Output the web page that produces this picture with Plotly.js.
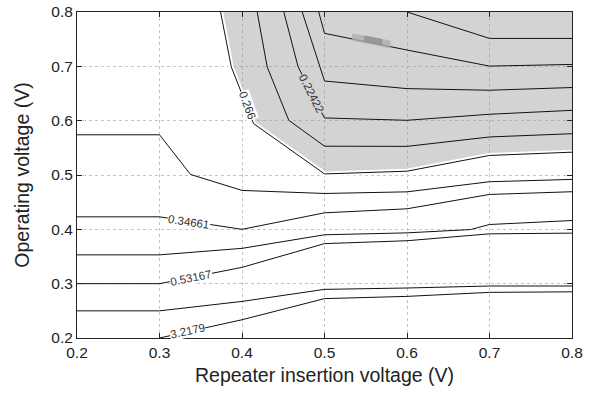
<!DOCTYPE html>
<html>
<head>
<meta charset="utf-8">
<script src="https://cdn.plot.ly/plotly-3.0.1.min.js"></script>
<style>html,body{margin:0;padding:0;background:#fff;}#chart{width:595px;height:395px;}</style>
</head>
<body>
<div id="chart"></div>
<script>
// Contour lines (x = repeater insertion voltage, y = operating voltage)
const lineA_x = [0.3, 0.4, 0.5, 0.6, 0.7, 0.8];            // 3.2179
const lineA_y = [0.2, 0.2336, 0.2725, 0.2766, 0.284, 0.285];
const lineB_x = [0.2, 0.3, 0.4, 0.5, 0.6, 0.7, 0.8];
const lineB_y = [0.25, 0.25, 0.2673, 0.2895, 0.292, 0.2957, 0.2957];
const lineC_x = [0.2, 0.3, 0.4, 0.5, 0.6, 0.7, 0.8];       // 0.53167
const lineC_y = [0.3, 0.3, 0.33, 0.3737, 0.379, 0.3917, 0.393];
const lineD_x = [0.2, 0.3, 0.4, 0.5, 0.6, 0.677, 0.7, 0.8];
const lineD_y = [0.353, 0.353, 0.365, 0.39, 0.3935, 0.3996, 0.4089, 0.4162];
const lineE_x = [0.2, 0.3, 0.4, 0.5, 0.6, 0.7, 0.8];       // 0.34661
const lineE_y = [0.423, 0.423, 0.40, 0.4304, 0.4378, 0.4642, 0.4692];
const lineF_x = [0.2, 0.3, 0.3376, 0.4, 0.5, 0.6, 0.7, 0.8];
const lineF_y = [0.574, 0.574, 0.501, 0.4716, 0.466, 0.469, 0.4876, 0.4919];
const bound_x = [0.374, 0.387, 0.414, 0.5, 0.6, 0.7, 0.8];  // 0.266 (shaded region boundary)
const bound_y = [0.8, 0.699, 0.5946, 0.502, 0.507, 0.536, 0.542];
const lineG_x = [0.4184, 0.4305, 0.4567, 0.5, 0.6, 0.7, 0.8];
const lineG_y = [0.8, 0.699, 0.6007, 0.553, 0.5527, 0.570, 0.576];
const lineH_x = [0.4507, 0.468, 0.5, 0.6, 0.7, 0.8];        // 0.22422
const lineH_y = [0.8, 0.699, 0.605, 0.6007, 0.6118, 0.619];
const lineI_x = [0.473, 0.49, 0.5, 0.6, 0.7, 0.8];
const lineI_y = [0.8, 0.7175, 0.673, 0.659, 0.656, 0.661];
const lineJ_x = [0.493, 0.5, 0.6, 0.7, 0.8];
const lineJ_y = [0.8, 0.7607, 0.73, 0.7004, 0.7035];
const lineK_x = [0.6, 0.7, 0.8];
const lineK_y = [0.8, 0.7514, 0.7514];

// Contour labels
const labelText  = ['3.2179', '0.53167', '0.34661', '0.266', '0.22422'];
const labelX     = [0.3336, 0.3376, 0.336, 0.4063, 0.485];
const labelY     = [0.2133, 0.3105, 0.4144, 0.6284, 0.65];
const labelAngle = [-12.5, -11.2, 8.5, 70, 63];
const labelBg    = ['#ffffff', '#ffffff', '#ffffff', '#ffffff', '#d3d3d3'];

const xTicks = [0.2, 0.3, 0.4, 0.5, 0.6, 0.7, 0.8];
const yTicks = [0.2, 0.3, 0.4, 0.5, 0.6, 0.7, 0.8];

const lineStyle = {color: '#111', width: 1};
function ln(x, y) {
  return {x: x, y: y, type: 'scatter', mode: 'lines', line: lineStyle, hoverinfo: 'skip', showlegend: false};
}

// Shaded region polygon built from boundary contour plus upper-right corner
const shadeX = bound_x.concat([0.8, bound_x[0]]);
const shadeY = bound_y.concat([0.8, 0.8]);

const traces = [
  {x: shadeX, y: shadeY, type: 'scatter', mode: 'none', fill: 'toself',
   fillcolor: 'rgba(150,150,150,0.42)', hoverinfo: 'skip', showlegend: false},
  {x: bound_x, y: bound_y, type: 'scatter', mode: 'lines',
   line: {color: '#ffffff', width: 5}, hoverinfo: 'skip', showlegend: false},
  ln(bound_x, bound_y),
  ln(lineA_x, lineA_y), ln(lineB_x, lineB_y), ln(lineC_x, lineC_y),
  ln(lineD_x, lineD_y), ln(lineE_x, lineE_y), ln(lineF_x, lineF_y),
  ln(lineG_x, lineG_y), ln(lineH_x, lineH_y), ln(lineI_x, lineI_y),
  ln(lineJ_x, lineJ_y), ln(lineK_x, lineK_y)
];

const annotations = labelText.map((t, i) => ({
  x: labelX[i], y: labelY[i], xref: 'x', yref: 'y', text: t, showarrow: false,
  textangle: labelAngle[i], bgcolor: labelBg[i], borderpad: 0,
  font: {family: 'Liberation Sans, Arial, sans-serif', size: 11.5, color: '#333'}
}));

const axisCommon = {
  showline: true, mirror: 'ticks', linecolor: '#222', linewidth: 1,
  ticks: 'inside', ticklen: 5, tickcolor: '#222',
  showgrid: true, gridcolor: '#c4c4c4', griddash: 'dot', gridwidth: 1,
  zeroline: false, tickformat: '.1f',
  tickfont: {family: 'Liberation Sans, Arial, sans-serif', size: 15.5, color: '#222'}
};

const layout = {
  width: 595, height: 395,
  margin: {l: 77, r: 23, t: 12, b: 57},
  paper_bgcolor: '#fff', plot_bgcolor: '#fff',
  showlegend: false,
  xaxis: Object.assign({}, axisCommon, {
    range: [0.2, 0.8], tickvals: xTicks,
    title: {text: 'Repeater insertion voltage (V)', standoff: 8,
            font: {family: 'Liberation Sans, Arial, sans-serif', size: 19.5, color: '#222'}}
  }),
  yaxis: Object.assign({}, axisCommon, {
    range: [0.2, 0.8], tickvals: yTicks,
    title: {text: 'Operating voltage (V)', standoff: 16,
            font: {family: 'Liberation Sans, Arial, sans-serif', size: 19.5, color: '#222'}}
  }),
  annotations: annotations,
  shapes: [
    {type: 'path', xref: 'x', yref: 'y',
     path: 'M 0.5336 0.7604 L 0.58 0.7475 L 0.58 0.7326 L 0.5336 0.7473 Z',
     fillcolor: 'rgba(175,175,175,0.8)', line: {width: 0}, layer: 'above'},
    {type: 'path', xref: 'x', yref: 'y',
     path: 'M 0.548 0.7570 L 0.57 0.7505 L 0.57 0.7385 L 0.548 0.7455 Z',
     fillcolor: 'rgba(130,130,130,0.6)', line: {width: 0}, layer: 'above'}
  ]
};

Plotly.newPlot('chart', traces, layout, {displayModeBar: false, staticPlot: true});
</script>
</body>
</html>
